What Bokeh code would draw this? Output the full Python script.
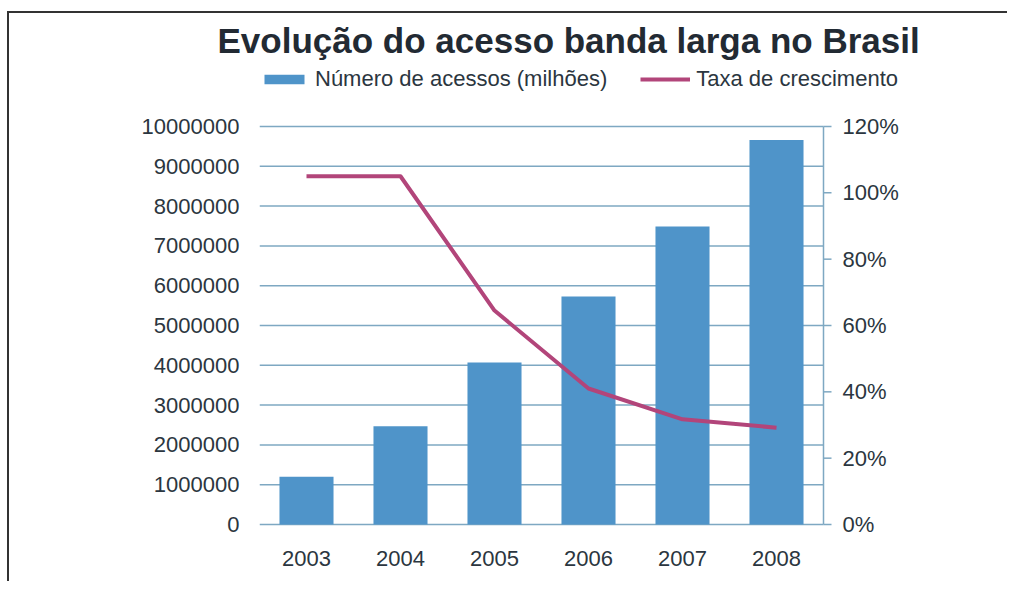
from bokeh.plotting import figure
from bokeh.models import Range1d, Legend, LegendItem, NumeralTickFormatter, FixedTicker
from bokeh.core.properties import value
from bokeh.embed import file_html
from bokeh.resources import INLINE

# ---- data ----
years = ["2003", "2004", "2005", "2006", "2007", "2008"]
acessos = [1200000, 2470000, 4070000, 5730000, 7490000, 9660000]
taxa = [1.05, 1.05, 0.645, 0.41, 0.317, 0.292]
left_ticks = [0, 1000000, 2000000, 3000000, 4000000, 5000000,
              6000000, 7000000, 8000000, 9000000, 10000000]
right_ticks = [0, 0.2, 0.4, 0.6, 0.8, 1.0, 1.2]
right_labels = ["0%", "20%", "40%", "60%", "80%", "100%", "120%"]
title_text = "Evolução do acesso banda larga no Brasil"
label_bars = "Número de acessos (milhões)"
label_line = "Taxa de crescimento"

FONT = "Liberation Sans"
TXT = "#2b3640"
GRID = "#7ea8c2"
BAR = "#4f94c9"
LINE = "#b2457a"

# ---- layout in pixels ----
W, H = 1000, 570
FRAME_L = 250            # frame left (figure px)
FRAME_T = 49             # frame top
FRAME_B = 527            # frame bottom
ZERO_Y = 511             # pixel of value 0
TOP_Y = 113              # pixel of the top tick (10M / 120%)
CAT_W = 94               # pixels per category
AXIS_H = ZERO_Y - TOP_Y
LMAX, RMAX = left_ticks[-1], right_ticks[-1]

xs = [int(y) for y in years]
x_lo, x_hi = xs[0] - 0.5, xs[-1] + 0.5
x_end = x_lo + (W - FRAME_L) / CAT_W

def yr(vmax):
    return Range1d(-vmax * (FRAME_B - ZERO_Y) / AXIS_H, vmax * (ZERO_Y - FRAME_T) / AXIS_H)

p = figure(x_range=Range1d(x_lo, x_end), y_range=yr(LMAX),
           width=W, height=H, output_backend="svg", toolbar_location=None,
           min_border_left=FRAME_L, min_border_right=0,
           min_border_top=FRAME_T, min_border_bottom=H - FRAME_B,
           styles={"border-top": "2px solid #333333",
                   "border-left": "2px solid #333333",
                   "margin-top": "11px", "margin-left": "7px"})
p.extra_y_ranges = {"pct": yr(RMAX)}
p.outline_line_color = None
p.background_fill_color = "white"
p.border_fill_color = "white"
p.xgrid.visible = False
p.ygrid.visible = False

# gridlines (stop at the right axis)
p.segment(x0=[x_lo] * len(left_ticks), y0=left_ticks,
          x1=[x_hi] * len(left_ticks), y1=left_ticks,
          line_color=GRID, line_width=1.5)

bars = p.vbar(x=xs, top=acessos, width=0.575, fill_color=BAR, line_color=None)
ln = p.line(x=xs, y=taxa, y_range_name="pct", line_color=LINE, line_width=4,
            line_join="round")

# left axis
ya = p.yaxis[0]
ya.ticker = FixedTicker(ticks=left_ticks)
ya.formatter = NumeralTickFormatter(format="0")
ya.axis_line_color = None
ya.major_tick_line_color = None
ya.minor_tick_line_color = None
ya.major_label_standoff = 14
ya.major_label_text_font = FONT
ya.major_label_text_font_size = "22px"
ya.major_label_text_color = TXT

# bottom axis
xa = p.xaxis[0]
xa.ticker = FixedTicker(ticks=xs)
xa.axis_line_color = None
xa.major_tick_line_color = None
xa.minor_tick_line_color = None
xa.major_label_standoff = 4
xa.major_label_text_font = FONT
xa.major_label_text_font_size = "22px"
xa.major_label_text_color = TXT

# right axis (drawn in the frame: line, outward ticks, labels)
tick_len = 8 / CAT_W
p.segment(x0=[x_hi], y0=[0], x1=[x_hi], y1=[RMAX], y_range_name="pct",
          line_color=GRID, line_width=1.5)
p.segment(x0=[x_hi] * len(right_ticks), y0=right_ticks,
          x1=[x_hi + tick_len] * len(right_ticks), y1=right_ticks,
          y_range_name="pct", line_color=GRID, line_width=1.5)
p.text(x=[x_hi + 19 / CAT_W] * len(right_ticks), y=right_ticks, text=right_labels,
       y_range_name="pct", text_font=value(FONT), text_font_size="22px",
       text_color=TXT, text_baseline="middle", text_align="left")

# title
p.title.text = title_text
p.title.align = "left"
p.title.offset = -42
p.title.text_font = FONT
p.title.text_font_size = "35px"
p.title.text_font_style = "bold"
p.title.text_color = "#222a33"
p.title.standoff = 6

# legend inside the frame, at its top band
lg = Legend(items=[LegendItem(label=label_bars, renderers=[bars]),
                   LegendItem(label=label_line, renderers=[ln])],
            location=(0, 448), orientation="horizontal", padding=0, margin=0,
            glyph_width=50, glyph_height=12, label_standoff=6, spacing=33,
            border_line_alpha=0, background_fill_alpha=0,
            label_text_font=FONT, label_text_font_size="22px",
            label_text_color=TXT)
p.add_layout(lg)

open("out.html", "w").write(file_html(p, INLINE))
